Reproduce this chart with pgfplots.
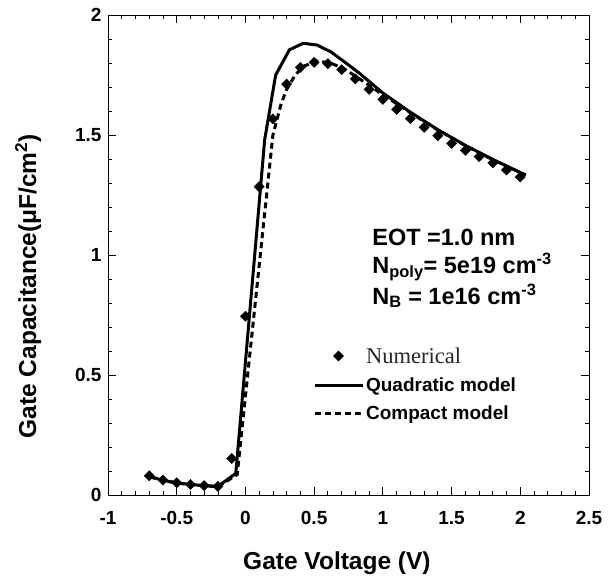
\documentclass[border=0pt]{standalone}
\usepackage{fontspec}
\setmainfont{Liberation Sans}
\newfontfamily\timesfont{Liberation Serif}
\usepackage{pgfplots}
\pgfplotsset{compat=1.18}

% C-V data: gate voltage (V) vs gate capacitance (uF/cm^2)
\pgfplotstableread{
V      C
-0.7   0.080
-0.6   0.062
-0.5   0.051
-0.4   0.044
-0.3   0.039
-0.2   0.036
-0.1   0.152
0.0    0.745
0.1    1.285
0.2    1.567
0.3    1.712
0.4    1.782
0.5    1.803
0.6    1.797
0.7    1.772
0.8    1.734
0.9    1.690
1.0    1.648
1.1    1.607
1.2    1.568
1.3    1.532
1.4    1.497
1.5    1.465
1.6    1.436
1.7    1.410
1.8    1.384
1.9    1.354
2.0    1.325
}\numerical

\pgfplotstableread{
V      C
-0.7   0.078
-0.6   0.061
-0.5   0.051
-0.4   0.044
-0.3   0.039
-0.2   0.036
-0.07  0.090
0.14   1.480
0.22   1.750
0.32   1.855
0.42   1.882
0.52   1.875
0.62   1.847
0.72   1.805
0.83   1.757
1.0    1.675
1.2    1.595
1.4    1.522
1.6    1.457
1.8    1.398
2.04   1.333
}\quadratic

\pgfplotstableread{
V      C
-0.7   0.076
-0.6   0.060
-0.5   0.050
-0.4   0.043
-0.3   0.038
-0.2   0.035
-0.06  0.085
0.20   1.500
0.26   1.630
0.30   1.690
0.36   1.748
0.42   1.786
0.52   1.808
0.62   1.800
0.72   1.775
0.82   1.738
1.0    1.668
1.2    1.593
1.4    1.521
1.6    1.456
1.8    1.397
2.04   1.333
}\compact

\begin{document}
\begin{tikzpicture}[x=1pt,y=1pt]
\path[use as bounding box] (-108,-84) rectangle (503,495);
\begin{axis}[
  at={(0,0)}, anchor=south west,
  scale only axis, width=481pt, height=480pt,
  xmin=-1, xmax=2.5, ymin=0, ymax=2,
  xtick={-1,-0.5,0,0.5,1,1.5,2,2.5},
  ytick={0,0.5,1,1.5,2},
  minor x tick num=4, minor y tick num=4,
  tick align=inside,
  major tick length=8pt, minor tick length=4pt,
  axis line style={line width=0.9pt},
  every tick/.style={black, line width=0.8pt},
  /pgf/number format/assume math mode=true,
  tick label style={font=\bfseries\fontsize{19}{22}\selectfont},
  yticklabel style={xshift=-3pt},
  xticklabel style={yshift=-13pt},
  xlabel={Gate Voltage (V)},
  ylabel={Gate Capacitance(μF/cm\textsuperscript{2})},
  label style={font=\bfseries\fontsize{24.5}{28}\selectfont},
  xlabel style={at={(axis description cs:0.476,-0.142)}, anchor=center},
  ylabel style={at={(axis description cs:-0.166,0.435)}, anchor=center},
  legend style={draw=none, fill=none, at={(axis description cs:0.426,0.312)},
    anchor=north west, font=\bfseries\fontsize{19}{22}\selectfont,
    row sep=9pt, inner sep=0pt},
  legend cell align=left,
  legend image code/.code={\draw[mark repeat=2,mark phase=2,#1]
    plot coordinates {(0pt,0pt) (24pt,0pt) (48pt,0pt)};},
]
\addplot[only marks, mark=square*, mark size=3.6pt,
  mark options={rotate=45, fill=black, draw=black}]
  table[x=V, y=C] {\numerical};
\addlegendentry{{\timesfont\mdseries\fontsize{22.5}{24}\selectfont\color{black!85}Numerical}}
\addplot[black, line width=3pt, line join=round] table[x=V, y=C] {\quadratic};
\addlegendentry{Quadratic model}
\addplot[black, line width=3pt, dash pattern=on 6pt off 4pt] table[x=V, y=C] {\compact};
\addlegendentry{Compact model}

\node[anchor=west, align=left, font=\bfseries\fontsize{23.5}{27}\selectfont]
  at (axis cs:0.898,0.944)
  {EOT =1.0 nm\\[1.5pt]
   N\textsubscript{poly}= 5e19 cm\textsuperscript{-3}\\[1.5pt]
   N\textsubscript{B} = 1e16 cm\textsuperscript{-3}};
\end{axis}
\end{tikzpicture}
\end{document}
